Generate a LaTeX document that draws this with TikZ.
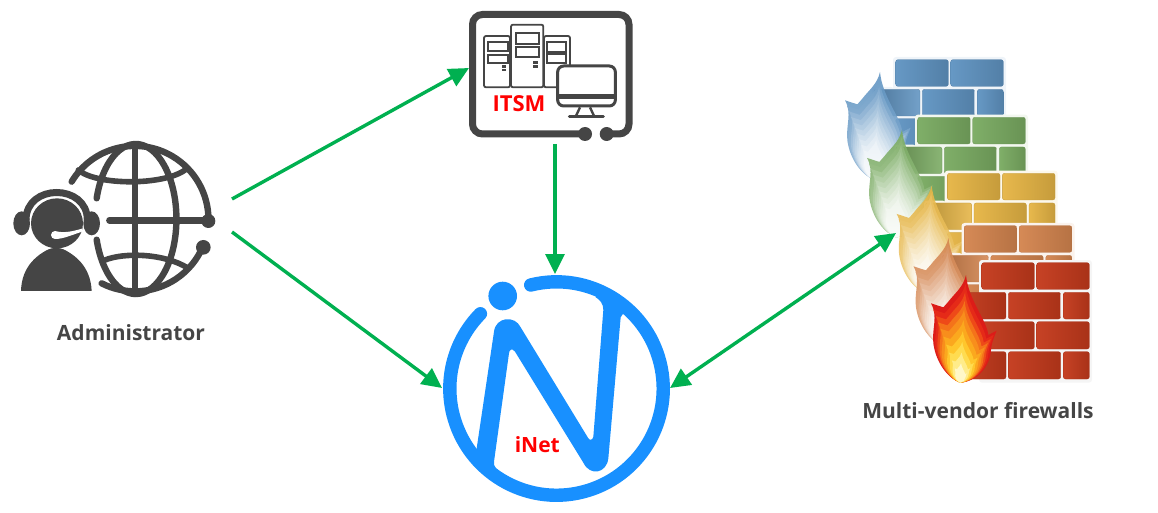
\documentclass[tikz,border=0pt]{standalone}
\usepackage{fontspec}
\setmainfont{Open Sans}
\usetikzlibrary{arrows.meta}
\definecolor{icon}{HTML}{454545}
\definecolor{flowgreen}{RGB}{0,176,80}
\definecolor{inetblue}{HTML}{1890FF}
\definecolor{fwblue}{HTML}{6094C2}
\definecolor{fwgreen}{HTML}{7AAB62}
\definecolor{fwyellow}{HTML}{E6B545}
\definecolor{fworange}{HTML}{D4854F}
\definecolor{fwred}{HTML}{C43A1C}
\tikzset{
  zoomed/.style={shift={(#1)},x=0.33333pt,y=-0.33333pt},
  flow/.style={draw=flowgreen,line width=3.4pt},
  tip/.style={-{Triangle[length=20pt,width=19pt]}},
  twotip/.style={{Triangle[length=20pt,width=19pt]}-{Triangle[length=20pt,width=19pt]}},
  caption/.style={font=\bfseries\fontsize{21}{24}\selectfont,text=icon,inner sep=0pt},
  redlabel/.style={font=\bfseries\fontsize{#1}{24}\selectfont,text=red,inner sep=0pt},
  iconline/.style={draw=icon,line width=6.4pt,line cap=round},
  drawer/.style={draw=icon,line width=1.8pt,fill=white},
  tower/.style={draw=icon,line width=1.8pt,fill=white,rounded corners=2pt},
  brick/.style={rounded corners=2.2pt,draw=#1!85!black,line width=.3pt},
}
% flame outline, in the coordinates of the red firewall
\def\flamepath{(258,225) .. controls (250,262) and (222,282) .. (205,305) -- (190,322) -- (153,310) .. controls (175,350) and (155,385) .. (160,430) .. controls (168,490) and (205,535) .. (240,548) .. controls (290,545) and (330,500) .. (333,450) .. controls (335,425) and (345,405) .. (350,392) -- (325,405) .. controls (320,360) and (265,300) .. (258,225) -- cycle}
\newcommand{\fwbrick}[5]{\shade[brick=#5,left color=#5!96!white,right color=#5!86!black] (#1,#3) rectangle (#2,#4);}
% one firewall, with its pale flame
\newcommand{\fwlayer}[3]{%
\begin{scope}[zoomed={{880+#1},{200+#2}}]
 \fill[#3!10!white,rounded corners=3pt] (297,180) rectangle (636,453);
 \fill[#3!10!white,rounded corners=3pt] (235,270) rectangle (300,363);
 \fwbrick{305}{463}{188}{268}{#3}\fwbrick{470}{628}{188}{268}{#3}
 \shade[brick=#3,left color=#3!80!black,right color=#3!88!white] (240,277) rectangle (378,357);
 \fwbrick{385}{542}{277}{357}{#3}\fwbrick{550}{628}{277}{357}{#3}
 \fwbrick{305}{463}{365}{447}{#3}\fwbrick{470}{628}{365}{447}{#3}
 \foreach \s/\m/\n in {1/100/70,.93/88/55,.86/76/42,.79/66/32,.72/56/25,.65/46/18,.58/36/13,.51/27/9,.44/19/6,.37/12/3}{
  \shade[scale around={\s:(240,548)},top color=#3!\m!white,bottom color=#3!\n!white,opacity=.9] \flamepath;
 }
\end{scope}}
\begin{document}
\begin{tikzpicture}[x=1pt,y=-1pt]
\useasboundingbox (0,0) rectangle (1158,513);

% ----- administrator icon
\begin{scope}[zoomed={0,120}]
 \draw[iconline] (215,185) arc[start angle=211,end angle=360,radius=221];
 \draw[iconline] (305,490) arc[start angle=117,end angle=21.6,radius=221];
 \draw[iconline] (290,235) arc[start angle=196,end angle=524,x radius=122,y radius=225];
 \draw[iconline] (405,75) -- (405,522);
 \draw[iconline] (328,301) -- (625,301);
 \draw[iconline,line width=5.6pt] (235,150) .. controls (290,197) and (490,197) .. (555,150);
 \draw[iconline,line width=5.6pt] (315,420) .. controls (370,398) and (490,398) .. (565,445);
 \fill[icon] (625,303) circle[radius=21];
 \fill[icon] (610,382) circle[radius=22];
 \fill[icon] (63,513) .. controls (65,440) and (110,400) .. (168,378) .. controls (226,400) and (272,440) .. (275,513) -- cycle;
 \fill[white] (95,375) -- (125,392) -- (168,382) -- (212,392) -- (245,375) -- (245,360) -- (95,360) -- cycle;
 \fill[icon] (171,310) ellipse[x radius=78,y radius=75];
 \draw[icon,line width=7pt] (78,300) .. controls (78,190) and (262,190) .. (262,300);
 \fill[icon] (65,310) ellipse[x radius=25,y radius=36];
 \fill[icon] (275,310) ellipse[x radius=25,y radius=36];
 \fill[white] (165,333) .. controls (190,340) and (215,335) .. (246,326) -- (246,335) .. controls (215,345) and (190,357) .. (165,357) arc[start angle=90,end angle=270,radius=12];
\end{scope}

% ----- ITSM icon
\draw[icon,line width=7pt,rounded corners=10pt] (585,134) -- (472.5,134) -- (472.5,14.5) -- (629,14.5) -- (629,134) -- (606.7,134);
\fill[icon] (585,134) circle[radius=7];
\fill[icon] (606.7,134) circle[radius=7];
\begin{scope}[zoomed={460,0}]
 \draw[tower] (72,108) rectangle (150,262);
 \draw[tower] (252,108) rectangle (330,262);
 \draw[tower] (153,74) rectangle (250,262);
 \draw[drawer] (85,127) rectangle (145,152);
 \draw[drawer] (85,165) rectangle (145,190);
 \draw[drawer] (168,100) rectangle (237,132);
 \draw[drawer] (168,142) rectangle (237,172);
 \draw[drawer] (260,127) rectangle (318,155);
 \draw[drawer] (260,162) rectangle (318,190);
 \fill[icon] (126,196) rectangle (138,203);
 \fill[icon] (126,206) rectangle (138,213);
 \fill[icon] (219,184) rectangle (233,192);
 \fill[icon] (219,196) rectangle (233,204);
 \draw[draw=icon,line width=3pt,fill=white,rounded corners=6pt] (293,198) rectangle (466,318);
 \fill[icon] (293,282) rectangle (466,297);
 \draw[icon,line width=2.4pt] (360,322) -- (347,350);
 \draw[icon,line width=2.4pt] (390,322) -- (403,350);
 \draw[icon,line width=3pt,line cap=round] (328,351) -- (430,351);
\end{scope}
\node[redlabel=22] (itsmtext) at (519,104) {ITSM};

% ----- iNet logo
\draw[inetblue,line width=13.4pt,line cap=round] (530.7,285) arc[start angle=-104,end angle=224.5,radius=106.7];
\fill[inetblue] (502.7,296) circle[radius=14.3];
\begin{scope}[zoomed={430,270}]
 \fill[inetblue,line join=round] (140,535) -- (192,185) .. controls (197,140) and (255,135) .. (272,172) -- (475,505) .. controls (480,512) and (488,510) .. (490,500) -- (520,120) .. controls (520,100) and (510,90) .. (495,80) -- (600,100) -- (572,142) -- (535,565) .. controls (530,610) and (480,620) .. (460,578) -- (255,245) .. controls (245,232) and (238,240) .. (237,250) -- (192,575) .. controls (190,590) and (200,600) .. (220,612) -- (150,590) -- cycle;
\end{scope}
\node[redlabel=21] (inettext) at (537.3,445) {iNet};

% ----- firewalls, back to front
\fwlayer{-86}{-203}{fwblue}
\fwlayer{-64}{-145.4}{fwgreen}
\fwlayer{-34.3}{-89.4}{fwyellow}
\fwlayer{-17.5}{-37}{fworange}
\begin{scope}[zoomed={880,200}]
 \fill[black!4,rounded corners=3pt] (297,180) rectangle (636,548);
 \fwbrick{305}{463}{188}{268}{fwred}\fwbrick{470}{628}{188}{268}{fwred}
 \fwbrick{240}{378}{277}{357}{fwred}\fwbrick{385}{542}{277}{357}{fwred}\fwbrick{550}{628}{277}{357}{fwred}
 \fwbrick{305}{463}{365}{447}{fwred}\fwbrick{470}{628}{365}{447}{fwred}
 \fwbrick{240}{378}{455}{537}{fwred}\fwbrick{385}{542}{455}{537}{fwred}\fwbrick{550}{628}{455}{537}{fwred}
 \foreach \s/\c in {1/DC1C18,.92/E52A18,.84/EE4A18,.76/F4731A,.68/F88E1C,.58/FBA81E,.48/FFC62C,.38/FFDC50,.28/FFEC8A,.18/FFF8C8}{
  \definecolor{flamestep}{HTML}{\c}
  \fill[flamestep,scale around={\s:(240,548)}] \flamepath;
 }
\end{scope}

% ----- captions
\node[caption] (admintext) at (131,333) {Administrator};
\node[caption] (fwtext) at (978,411) {Multi-vendor firewalls};

% ----- connectors
\coordinate (adminA) at (232,199);
\coordinate (adminB) at (232,232);
\coordinate (itsmW) at (469,68);
\coordinate (itsmS) at (555,144);
\coordinate (inetN) at (555,274);
\coordinate (inetW) at (442,388);
\coordinate (inetE) at (670,388);
\coordinate (fwW) at (896,233);
\draw[flow,tip] (adminA) -- (itsmW);
\draw[flow,tip] (adminB) -- (inetW);
\draw[flow,tip] (itsmS) -- (inetN);
\draw[flow,twotip] (inetE) -- (fwW);
\end{tikzpicture}
\end{document}
